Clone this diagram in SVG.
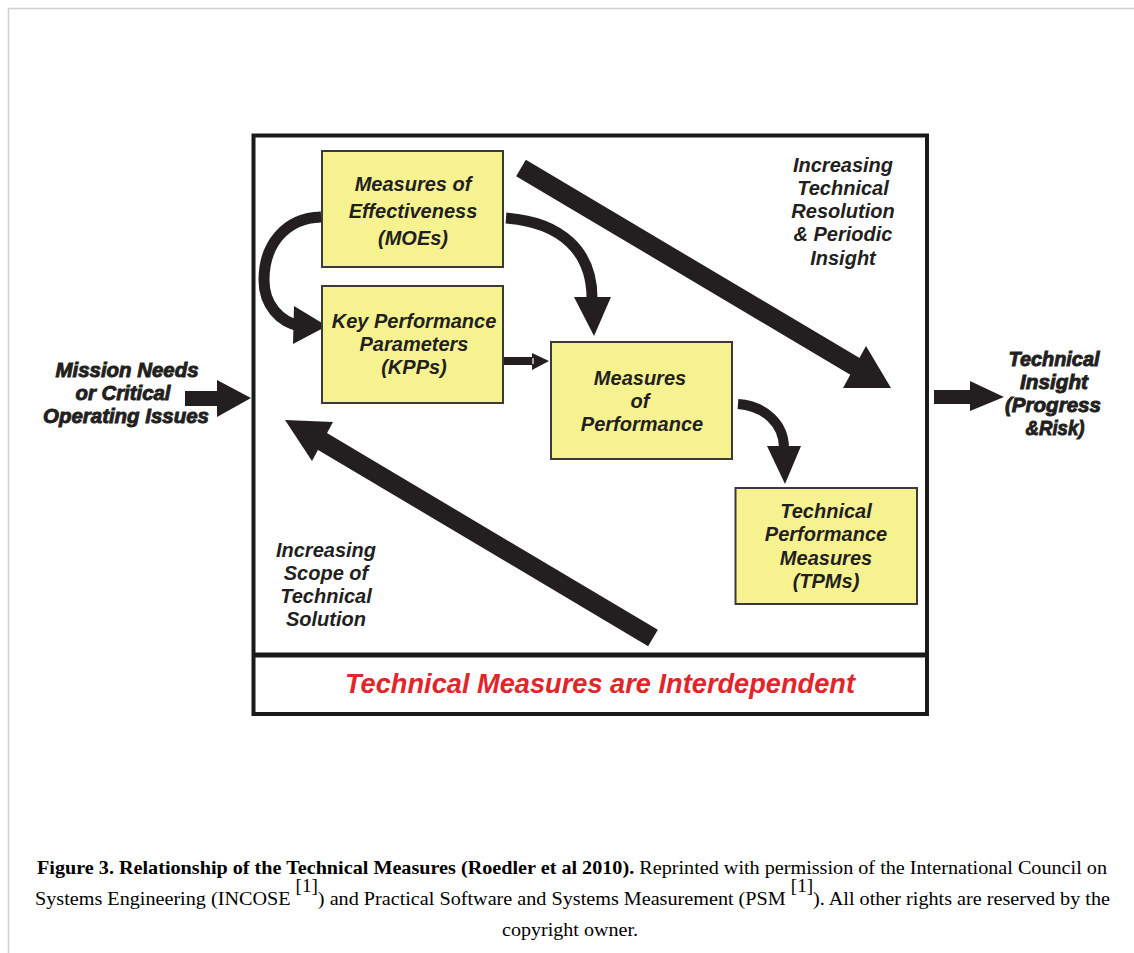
<svg xmlns="http://www.w3.org/2000/svg" width="1134" height="953" viewBox="0 0 1134 953">
<defs>
<style>
.box{fill:#f6f28f;stroke:#3a3a3a;stroke-width:2}
.t{font-family:"Liberation Sans",Arial,sans-serif;font-weight:bold;font-style:italic;font-size:20px;fill:#231f20;text-anchor:middle}
.heavy{stroke:#231f20;stroke-width:0.9}
.cap{font-family:"Liberation Serif","Times New Roman",serif;font-size:19px;fill:#000}
.ink{fill:#231f20}
.cv{fill:none;stroke:#231f20}
</style>
</defs>
<rect x="0" y="0" width="1134" height="953" fill="#fff"/>
<path d="M8.5,953 V8.5 H1134" fill="none" stroke="#d0d0d0" stroke-width="1.5"/>

<g id="frame">
<rect x="253.5" y="135.5" width="673.5" height="578.5" fill="#fff" stroke="#1a1a1a" stroke-width="4"/>
<line x1="253" y1="655" x2="927" y2="655" stroke="#1a1a1a" stroke-width="5"/>
</g>

<g id="connectors">
<line x1="521" y1="168" x2="856" y2="367" stroke="#231f20" stroke-width="19"/>
<polygon class="ink" points="843,388 866,346 891,388"/>
<line x1="653" y1="638" x2="320" y2="440" stroke="#231f20" stroke-width="19"/>
<polygon class="ink" points="285,420 333,422 312,461"/>
<rect class="ink" x="185" y="391" width="33" height="15"/>
<polygon class="ink" points="217,380 251,398 217,417"/>
<rect class="ink" x="934" y="390" width="37" height="14"/>
<polygon class="ink" points="970,381 1004,397 970,411"/>
<rect class="ink" x="503" y="357" width="31" height="8"/>
<polygon class="ink" points="532,353 549,361 532,370"/>
<line x1="533" y1="358" x2="533" y2="364" stroke="#fff" stroke-width="1.2"/>
<path class="cv" stroke-width="11" d="M321,217 C285,218 264,245 264,280 C264,305 280,322 300,326"/>
<polygon class="ink" points="294,306 327,326 293,344"/>
<path class="cv" stroke-width="11" d="M506,218 C562,222 592,252 592,298"/>
<polygon class="ink" points="574,297 611,297 594,336"/>
<path class="cv" stroke-width="10" d="M738,404 C765,406 784,424 784,448"/>
<polygon class="ink" points="767,446 801,446 785,484"/>
</g>

<g id="moe">
<rect class="box" x="322" y="151" width="181" height="116"/>
<text class="t" x="413" y="191">Measures of</text>
<text class="t" x="413" y="218">Effectiveness</text>
<text class="t" x="413" y="245">(MOEs)</text>
</g>

<g id="kpp">
<rect class="box" x="322" y="286" width="181" height="117"/>
<text class="t" x="414" y="328">Key Performance</text>
<text class="t" x="414" y="351">Parameters</text>
<text class="t" x="414" y="374">(KPPs)</text>
</g>

<g id="mop">
<rect class="box" x="551" y="342" width="181" height="117"/>
<text class="t" x="640" y="385">Measures</text>
<text class="t" x="640" y="408">of</text>
<text class="t" x="642" y="431">Performance</text>
</g>

<g id="tpm">
<rect class="box" x="735.5" y="488" width="181.5" height="116"/>
<text class="t" x="826" y="518">Technical</text>
<text class="t" x="826" y="541">Performance</text>
<text class="t" x="826" y="565">Measures</text>
<text class="t" x="826" y="588">(TPMs)</text>
</g>

<g id="resolution-label">
<text class="t" x="843" y="172">Increasing</text>
<text class="t" x="843" y="195">Technical</text>
<text class="t" x="843" y="218">Resolution</text>
<text class="t" x="843" y="241">&amp; Periodic</text>
<text class="t" x="843" y="265">Insight</text>
</g>

<g id="scope-label">
<text class="t" x="326" y="557">Increasing</text>
<text class="t" x="326" y="580">Scope of</text>
<text class="t" x="326" y="603">Technical</text>
<text class="t" x="326" y="626">Solution</text>
</g>

<g id="input-label">
<text class="t heavy" x="127" y="377" textLength="143" lengthAdjust="spacingAndGlyphs">Mission Needs</text>
<text class="t heavy" x="123" y="400" textLength="95" lengthAdjust="spacingAndGlyphs">or Critical</text>
<text class="t heavy" x="126" y="423" textLength="166" lengthAdjust="spacingAndGlyphs">Operating Issues</text>
</g>

<g id="output-label">
<text class="t heavy" x="1054" y="366" textLength="91" lengthAdjust="spacingAndGlyphs">Technical</text>
<text class="t heavy" x="1054" y="389" textLength="68" lengthAdjust="spacingAndGlyphs">Insight</text>
<text class="t heavy" x="1053" y="412" textLength="96" lengthAdjust="spacingAndGlyphs">(Progress</text>
<text class="t heavy" x="1055" y="435" textLength="59" lengthAdjust="spacingAndGlyphs">&amp;Risk)</text>
</g>

<g id="banner">
<text x="600" y="693" font-family="'Liberation Sans',Arial,sans-serif" font-weight="bold" font-style="italic" font-size="27" fill="#e2252b" text-anchor="middle" textLength="510" lengthAdjust="spacingAndGlyphs">Technical Measures are Interdependent</text>
</g>

<g id="caption">
<text class="cap" x="37" y="874" textLength="1070" lengthAdjust="spacingAndGlyphs"><tspan font-weight="bold">Figure 3. Relationship of the Technical Measures (Roedler et al 2010).</tspan> Reprinted with permission of the International Council on</text>
<text class="cap" x="35" y="905" textLength="1075" lengthAdjust="spacingAndGlyphs">Systems Engineering (INCOSE <tspan dy="-13" font-size="18">[1]</tspan><tspan dy="13">) and Practical Software and Systems Measurement (PSM </tspan><tspan dy="-13" font-size="18">[1]</tspan><tspan dy="13">). All other rights are reserved by the</tspan></text>
<text class="cap" x="570" y="936" text-anchor="middle" textLength="136" lengthAdjust="spacingAndGlyphs">copyright owner.</text>
</g>
</svg>
